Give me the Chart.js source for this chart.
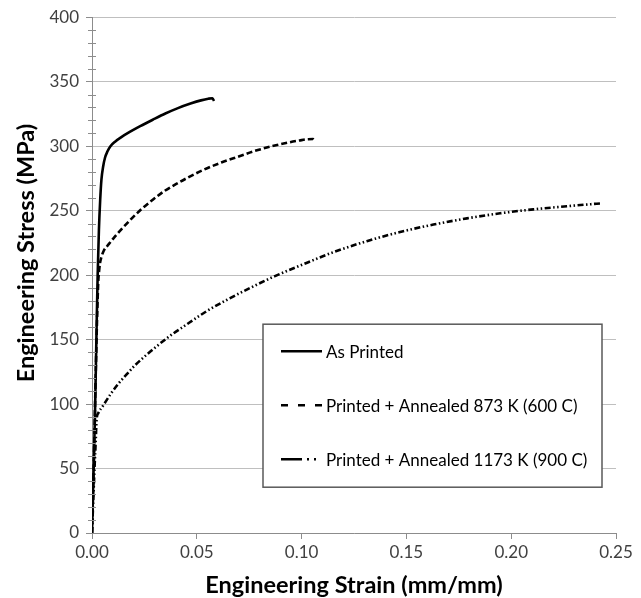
<!DOCTYPE html>
<html>
<head>
<meta charset="utf-8">
<script src="https://cdn.jsdelivr.net/npm/chart.js@4/dist/chart.umd.min.js"></script>
<style>
  html, body { margin: 0; padding: 0; background: #fff; }
  #wrap { width: 641px; height: 598px; position: relative; }
</style>
</head>
<body>
<div id="wrap"><canvas id="chart"></canvas></div>
<script>
// values
const seriesLabels = [
  'As Printed',
  'Printed + Annealed 873 K (600 C)',
  'Printed + Annealed 1173 K (900 C)',
];

const asPrintedStrain = [0, 0.0006, 0.0014, 0.0022, 0.0027, 0.0033, 0.0039, 0.0045, 0.0053, 0.0062, 0.0074, 0.0088,
  0.011, 0.014, 0.018, 0.023, 0.029, 0.035, 0.041, 0.047, 0.052, 0.0555, 0.0575, 0.0582];
const asPrintedStress = [0, 39, 90, 160, 200, 235, 258, 274, 284, 291, 296, 300,
  303.5, 307, 311, 315.5, 320.5, 325.3, 329.5, 333, 335.5, 336.8, 337.2, 335];

const annealed873Strain = [0, 0.0008, 0.0016, 0.0024, 0.003, 0.0035, 0.0038, 0.0045, 0.0055, 0.008, 0.011, 0.014,
  0.019, 0.0235, 0.029, 0.0347, 0.04, 0.0458, 0.053, 0.0617, 0.07, 0.0777, 0.086, 0.0936, 0.099, 0.1031, 0.1055, 0.1065];
const annealed873Stress = [0, 50, 110, 165, 195, 205, 209, 214, 218.5, 224, 230, 235.5,
  244, 251, 258.5, 265.4, 270.5, 275.7, 281.5, 287.3, 292, 296.3, 300, 302.8, 304.4, 305.4, 305.5, 304];

const annealed1173Strain = [0, 0.0006, 0.0012, 0.0018, 0.0022, 0.003, 0.0054, 0.009, 0.0126, 0.0165, 0.0205, 0.0285,
  0.0364, 0.0444, 0.0539, 0.064, 0.0754, 0.087, 0.0993, 0.1152, 0.1311, 0.147, 0.1629, 0.1789, 0.1947, 0.2106,
  0.2266, 0.238, 0.2425];
const annealed1173Stress = [0, 25, 50, 72, 88, 93, 99, 108, 115.8, 123, 130, 141.6,
  151.9, 160.9, 171.2, 180.5, 190, 199, 207.4, 217.8, 226.3, 233.4, 239.2, 244, 247.9, 251,
  253.4, 255, 255.6];

const strainTicks = [0, 0.05, 0.1, 0.15, 0.2, 0.25];
const stressTicks = [0, 50, 100, 150, 200, 250, 300, 350, 400];

function toPoints(xs, ys) {
  return xs.map((x, i) => ({ x, y: ys[i] }));
}

Chart.defaults.font.family = 'Lato, "Open Sans", sans-serif';
Chart.defaults.color = '#404040';

const legendDashes = [[], [7, 10], [21, 5, 2, 5, 2, 20]];

// legend box drawn inside the plot, like the original
const boxLegend = {
  id: 'boxLegend',
  afterDraw(chart) {
    const { ctx, chartArea } = chart;
    const left = chartArea.left + 171;
    const top = chartArea.top + 307;
    ctx.save();
    ctx.fillStyle = '#fff';
    ctx.fillRect(left, top, 339, 163);
    ctx.strokeStyle = '#595959';
    ctx.lineWidth = 1.5;
    ctx.strokeRect(left, top, 339, 163);
    ctx.font = '17px Lato, "Open Sans", sans-serif';
    ctx.textBaseline = 'middle';
    ctx.fillStyle = '#000';
    seriesLabels.forEach((label, i) => {
      const y = top + 27 + i * 54;
      ctx.beginPath();
      ctx.setLineDash(legendDashes[i]);
      ctx.lineWidth = 2.5;
      ctx.strokeStyle = '#000';
      ctx.moveTo(left + 18, y);
      ctx.lineTo(left + 59, y);
      ctx.stroke();
      ctx.setLineDash([]);
      ctx.fillText(label, left + 63, y + 1);
    });
    ctx.restore();
  },
};

// minor ticks on the stress axis, every 10 MPa, crossing the axis line
const minorTicks = {
  id: 'minorTicks',
  afterDraw(chart) {
    const { ctx } = chart;
    const yScale = chart.scales.y;
    const x0 = yScale.right;
    ctx.save();
    ctx.strokeStyle = '#8c8c8c';
    ctx.lineWidth = 1;
    for (let v = 10; v < 400; v += 10) {
      if (v % 50 === 0) continue;
      const y = Math.round(yScale.getPixelForValue(v)) + 0.5;
      ctx.beginPath();
      ctx.moveTo(x0 - 4, y);
      ctx.lineTo(x0 + 4, y);
      ctx.stroke();
    }
    ctx.restore();
  },
};

const yTitle = {
  id: 'yTitle',
  afterDraw(chart) {
    const { ctx } = chart;
    ctx.save();
    ctx.translate(26, 253);
    ctx.rotate(-Math.PI / 2);
    ctx.font = 'bold 23.5px Lato, "Open Sans", sans-serif';
    ctx.fillStyle = '#000';
    ctx.textAlign = 'center';
    ctx.textBaseline = 'middle';
    ctx.fillText('Engineering Stress (MPa)', 0, 0);
    ctx.restore();
  },
};

new Chart(document.getElementById('chart'), {
  type: 'scatter',
  data: {
    datasets: [
      {
        label: seriesLabels[0],
        data: toPoints(asPrintedStrain, asPrintedStress),
        borderColor: '#000',
        borderWidth: 2.6,
      },
      {
        label: seriesLabels[1],
        data: toPoints(annealed873Strain, annealed873Stress),
        borderColor: '#000',
        borderWidth: 2.6,
        borderDash: [6, 3],
      },
      {
        label: seriesLabels[2],
        data: toPoints(annealed1173Strain, annealed1173Stress),
        borderColor: '#000',
        borderWidth: 2.6,
        borderDash: [6, 2.5, 1.5, 2.5, 1.5, 2.5],
      },
    ],
  },
  options: {
    responsive: true,
    maintainAspectRatio: false,
    animation: false,
    showLine: true,
    elements: {
      point: { radius: 0, hoverRadius: 0 },
      line: { cubicInterpolationMode: 'monotone', borderCapStyle: 'butt' },
    },
    layout: { padding: { left: 0, right: 25, top: 16, bottom: 0 } },
    plugins: {
      legend: { display: false },
      tooltip: { enabled: false },
    },
    scales: {
      x: {
        type: 'linear',
        min: 0,
        max: 0.25,
        afterFit: (scale) => { scale.height = 65; },
        afterBuildTicks: (scale) => { scale.ticks = strainTicks.map((v) => ({ value: v })); },
        ticks: {
          font: { size: 17 },
          padding: 3,
          callback: (v) => Number(v).toFixed(2),
        },
        grid: { drawOnChartArea: false, tickLength: 6, color: '#8c8c8c' },
        border: { color: '#8c8c8c' },
        title: {
          display: true,
          text: 'Engineering Strain (mm/mm)',
          color: '#000',
          font: { size: 23.5, weight: 'bold', lineHeight: 1 },
          padding: { top: 0, bottom: 1 },
        },
      },
      y: {
        type: 'linear',
        min: 0,
        max: 400,
        afterFit: (scale) => { scale.width = 92; },
        afterBuildTicks: (scale) => { scale.ticks = stressTicks.map((v) => ({ value: v })); },
        ticks: { font: { size: 17 }, padding: 7 },
        grid: { color: '#bfbfbf', tickColor: '#8c8c8c', tickLength: 6 },
        border: { color: '#8c8c8c' },
      },
    },
  },
  plugins: [minorTicks, boxLegend, yTitle],
});
</script>
</body>
</html>
